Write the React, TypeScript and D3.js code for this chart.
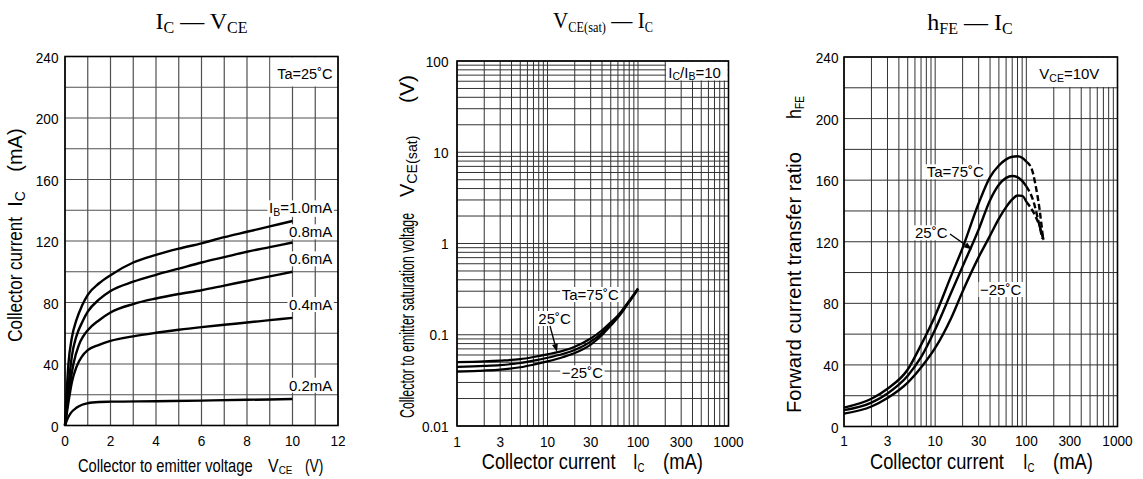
import React, { useEffect, useRef } from "react";
import * as d3 from "d3";

const W = 1143;
const H = 479;
const SANS = '"Liberation Sans", Arial, Helvetica, sans-serif';
const SERIF = '"Liberation Serif", "Times New Roman", Times, serif';

// ---------- Panel 1 : IC - VCE ----------
const vceTicks = [0, 2, 4, 6, 8, 10, 12];
const icTicks = [0, 40, 80, 120, 160, 200, 240];
const ib10: [number, number][] = [[0, 0], [0.15, 40], [0.3, 57], [0.5, 68.5], [0.75, 78], [1, 85], [1.5, 92.5], [2, 97.8], [3, 106], [4, 111], [5, 115], [6, 118.5], [7, 122.5], [8, 126], [9, 129.5], [10, 133]];
const ib08: [number, number][] = [[0, 0], [0.15, 25], [0.3, 45], [0.5, 58], [0.75, 67], [1, 74], [1.5, 82], [2, 87.5], [3, 93.5], [4, 98], [5, 102], [6, 106], [7, 109.5], [8, 113], [9, 116], [10, 119]];
const ib06: [number, number][] = [[0, 0], [0.2, 25], [0.37, 40], [0.6, 52], [0.8, 58], [1, 62], [1.5, 68.5], [2, 73.5], [3, 79], [4, 82.6], [5, 85.5], [6, 88], [7, 91], [8, 94], [9, 97], [10, 100]];
const ib04: [number, number][] = [[0, 0], [0.15, 15], [0.3, 28], [0.5, 38], [0.75, 45], [1, 49], [1.5, 52.5], [2, 55], [3, 58], [4, 60.3], [5, 62.3], [6, 64], [7, 65.5], [8, 67], [9, 68.5], [10, 70]];
const ib02: [number, number][] = [[0, 0], [0.1, 4], [0.25, 8], [0.5, 11.5], [0.75, 13.5], [1, 14.5], [1.5, 15.3], [2, 15.5], [4, 15.8], [6, 16.2], [8, 16.7], [10, 17.2]];
const ibNames = ["1.0mA", "0.8mA", "0.6mA", "0.4mA", "0.2mA"];

// ---------- Panel 2 : VCE(sat) - IC ----------
const logXTicks = [1, 3, 10, 30, 100, 300, 1000];
const logXTickLabels = ["1", "3", "10", "30", "100", "300", "1000"];
const vsatTicks = [0.01, 0.1, 1, 10, 100];
const vsatTickLabels = ["0.01", "0.1", "1", "10", "100"];
const icSat = [1, 2, 3, 5, 7, 10, 15, 20, 30, 40, 50, 60, 70, 80, 90, 100];
const vsat75 = [0.05, 0.051, 0.052, 0.054, 0.057, 0.061, 0.067, 0.074, 0.091, 0.112, 0.137, 0.163, 0.197, 0.236, 0.277, 0.322];
const vsat25 = [0.0445, 0.0455, 0.0465, 0.049, 0.052, 0.056, 0.062, 0.068, 0.084, 0.105, 0.131, 0.158, 0.193, 0.232, 0.273, 0.318];
const vsatM25 = [0.0395, 0.0405, 0.0415, 0.044, 0.047, 0.051, 0.057, 0.063, 0.078, 0.0995, 0.126, 0.154, 0.189, 0.229, 0.27, 0.315];

// ---------- Panel 3 : hFE - IC ----------
const hfeTicks = [0, 40, 80, 120, 160, 200, 240];
const icH = [1, 2, 3, 5, 7, 10, 15, 20, 30, 40, 50, 60, 70, 80, 90, 100];
const hfe75 = [12.3, 18, 24.5, 37, 53, 72, 98, 116, 145, 162, 169.5, 173.5, 175.2, 175.5, 174.5, 172];
const hfe25 = [10.6, 15.5, 21.5, 33, 45, 63, 87, 104, 128, 147, 157, 161.5, 162.7, 162, 159.5, 156];
const hfeM25 = [8.4, 13, 18.5, 28.5, 38.3, 51, 70.5, 87.7, 110, 124, 135, 142.5, 147.5, 150, 149.8, 146];
const hfe75Dash: [number, number][] = [[100, 172], [115, 167], [125, 158], [140, 140.6], [153, 121]];
const hfe25Dash: [number, number][] = [[100, 156], [120, 146], [135, 134], [150, 122]];
const hfeM25Dash: [number, number][] = [[100, 146], [120, 139], [140, 130], [155, 121]];

type Part = { t: string; sub?: boolean };
interface TOpts {
  x: number; y: number; size: number; sub?: number; shift?: number; sx?: number;
  rot?: boolean; anchor?: string; family?: string;
}
type Sel = d3.Selection<any, any, any, any>;

function rich(parent: Sel, parts: Part[], o: TOpts) {
  const g = parent.append("g").attr(
    "transform",
    `translate(${o.x},${o.y})${o.rot ? " rotate(-90)" : ""} scale(${o.sx ?? 1},1)`
  );
  const text = g.append("text")
    .attr("font-family", o.family ?? SANS)
    .attr("font-size", o.size)
    .attr("text-anchor", o.anchor ?? "start")
    .attr("fill", "#000");
  const subSize = o.sub ?? Math.round(o.size * 0.7);
  const shift = o.shift ?? o.size * 0.18;
  let cur = 0;
  for (const p of parts) {
    const ts = text.append("tspan").text(p.t).attr("font-size", p.sub ? subSize : o.size);
    const want = p.sub ? shift : 0;
    if (want !== cur) { ts.attr("dy", want - cur); cur = want; }
  }
  return { g, text };
}

function withBg(r: { g: Sel; text: Sel }, pad = 1.5) {
  const b = (r.text.node() as SVGTextElement).getBBox();
  r.g.insert("rect", "text")
    .attr("x", b.x - pad).attr("y", b.y + 1)
    .attr("width", b.width + 2 * pad).attr("height", b.height - 2)
    .attr("fill", "#fff");
}

function logGrid(lo: number, hi: number) {
  const out: number[] = [];
  for (let e = Math.floor(Math.log10(lo)); Math.pow(10, e) <= hi * 1.0001; e++) {
    for (let k = 1; k < 10; k++) {
      const v = k * Math.pow(10, e);
      if (v >= lo * 0.9999 && v <= hi * 1.0001) out.push(v);
    }
  }
  return out;
}

function drawGrid(g: Sel, xs: number[], ys: number[], x: any, y: any, color: string, w: number) {
  const [yb, yt] = y.range();
  const [xl, xr] = x.range();
  g.append("g").selectAll("line").data(xs).join("line")
    .attr("x1", (d: number) => x(d)).attr("x2", (d: number) => x(d))
    .attr("y1", yb).attr("y2", yt)
    .attr("stroke", color).attr("stroke-width", w);
  g.append("g").selectAll("line").data(ys).join("line")
    .attr("y1", (d: number) => y(d)).attr("y2", (d: number) => y(d))
    .attr("x1", xl).attr("x2", xr)
    .attr("stroke", color).attr("stroke-width", w);
}

function blank(g: Sel, x0: number, y0: number, x1: number, y1: number) {
  g.append("rect").attr("x", x0 + 0.8).attr("y", y0 + 0.8)
    .attr("width", x1 - x0 - 1.6).attr("height", y1 - y0 - 1.6).attr("fill", "#fff");
}

function frame(g: Sel, x: any, y: any) {
  const [xl, xr] = x.range();
  const [yb, yt] = y.range();
  g.append("rect").attr("x", xl).attr("y", yt).attr("width", xr - xl).attr("height", yb - yt)
    .attr("fill", "none").attr("stroke", "#000").attr("stroke-width", 1.6);
}

function arrow(g: Sel, x0: number, y0: number, x1: number, y1: number) {
  const dx = x1 - x0, dy = y1 - y0;
  const L = Math.hypot(dx, dy);
  const ux = dx / L, uy = dy / L;
  const hl = 8, hw = 3;
  const bx = x1 - ux * hl, by = y1 - uy * hl;
  g.append("line").attr("x1", x0).attr("y1", y0).attr("x2", bx).attr("y2", by)
    .attr("stroke", "#000").attr("stroke-width", 1.3);
  g.append("path")
    .attr("d", `M${x1},${y1}L${bx - uy * hw},${by + ux * hw}L${bx + uy * hw},${by - ux * hw}Z`)
    .attr("fill", "#000");
}

function yTickLabels(g: Sel, vals: number[], labels: string[], y: any, xr: number, dy: number) {
  vals.forEach((v, i) => {
    rich(g, [{ t: labels[i] }], { x: xr, y: y(v) + dy, size: 15.5, sx: 0.88, anchor: "end" });
  });
}
function xTickLabels(g: Sel, vals: number[], labels: string[], x: any, yb: number) {
  vals.forEach((v, i) => {
    rich(g, [{ t: labels[i] }], { x: x(v), y: yb, size: 15.5, sx: 0.88, anchor: "middle" });
  });
}

function draw(svg: Sel) {
  svg.append("rect").attr("width", W).attr("height", H).attr("fill", "#fff");
  const GRID = "#333";

  // ======== Panel 1 ========
  {
    const g = svg.append("g");
    const x = d3.scaleLinear().domain([0, 12]).range([65, 338]);
    const y = d3.scaleLinear().domain([0, 240]).range([425.5, 56.5]);
    drawGrid(g, d3.range(0, 13), d3.range(0, 241, 20), x, y, "#505050", 1.2);
    blank(g, x(9), y(240), x(12), y(220));
    const line = d3.line<[number, number]>().x(d => x(d[0])).y(d => y(d[1])).curve(d3.curveMonotoneX);
    [ib10, ib08, ib06, ib04, ib02].forEach(s => {
      g.append("path").attr("d", line(s)!).attr("fill", "none").attr("stroke", "#000").attr("stroke-width", 2.4);
    });
    const labY = [138, 122.4, 104.8, 75.1, 22.6];
    ibNames.forEach((n, i) => {
      const parts: Part[] = i === 0 ? [{ t: "I" }, { t: "B", sub: true }, { t: "=" + n }] : [{ t: n }];
      const r = rich(g, parts, { x: x(11.75), y: y(labY[i]), size: 15, sub: 10.5, shift: 2.5, anchor: "end" });
      withBg(r, 1.5);
    });
    rich(g, [{ t: "Ta=25˚C" }], { x: 332.5, y: 79, size: 15, sx: 0.97, anchor: "end" });
    frame(g, x, y);
    yTickLabels(g, icTicks, icTicks.map(String), y, 58.5, 6);
    xTickLabels(g, vceTicks, vceTicks.map(String), x, 446);
    rich(g, [{ t: "I" }, { t: "C", sub: true }, { t: " — V" }, { t: "CE", sub: true }],
      { x: 201.5, y: 28.5, size: 24, sub: 16, shift: 4, anchor: "middle", family: SERIF });
    rich(g, [{ t: "Collector to emitter voltage" }], { x: 78, y: 471.5, size: 17.7, sx: 0.83 });
    rich(g, [{ t: "V" }, { t: "CE", sub: true }], { x: 268, y: 471.5, size: 17.7, sub: 11, shift: 2, sx: 0.9 });
    rich(g, [{ t: "(V)" }], { x: 305, y: 471.5, size: 17.7, sx: 0.78 });
    rich(g, [{ t: "Collector current" }], { x: 21.5, y: 341.7, size: 20, sx: 0.85, rot: true });
    rich(g, [{ t: "I" }, { t: "C", sub: true }], { x: 21.5, y: 206.7, size: 20, sub: 14, shift: 3, rot: true });
    rich(g, [{ t: "(mA)" }], { x: 21.5, y: 171.7, size: 20, sx: 1.0, rot: true });
  }

  // ======== Panel 2 ========
  {
    const g = svg.append("g");
    const x = d3.scaleLog().domain([1, 1000]).range([457, 728.5]);
    const y = d3.scaleLog().domain([0.01, 100]).range([426, 61]);
    drawGrid(g, logGrid(1, 1000), logGrid(0.01, 100), x, y, GRID, 1);
    blank(g, x(200), y(100), x(1000), y(60));
    const line = d3.line<[number, number]>().x(d => x(d[0])).y(d => y(d[1])).curve(d3.curveMonotoneX);
    [vsat75, vsat25, vsatM25].forEach(vals => {
      const pts = icSat.map((c, i) => [c, vals[i]] as [number, number]);
      g.append("path").attr("d", line(pts)!).attr("fill", "none").attr("stroke", "#000").attr("stroke-width", 2.2);
    });
    withBg(rich(g, [{ t: "Ta=75˚C" }], { x: 561.7, y: 300, size: 15 }), 1.5);
    withBg(rich(g, [{ t: "25˚C" }], { x: 538.3, y: 324, size: 15 }), 1.5);
    withBg(rich(g, [{ t: "−25˚C" }], { x: 561.7, y: 378.3, size: 15 }), 1.5);
    arrow(g, 550, 326, 557, 352);
    rich(g, [{ t: "I" }, { t: "C", sub: true }, { t: "/I" }, { t: "B", sub: true }, { t: "=10" }],
      { x: 668.3, y: 77.7, size: 15, sub: 10.5, shift: 2.5 });
    frame(g, x, y);
    yTickLabels(g, vsatTicks, vsatTickLabels, y, 448.5, 5.5);
    xTickLabels(g, logXTicks, logXTickLabels, x, 446.5);
    rich(g, [{ t: "V" }, { t: "CE(sat)", sub: true }, { t: " — I" }, { t: "C", sub: true }],
      { x: 603, y: 27.5, size: 24, sub: 14, shift: 4, sx: 0.88, anchor: "middle", family: SERIF });
    rich(g, [{ t: "Collector current" }], { x: 481.7, y: 469, size: 22, sx: 0.83 });
    rich(g, [{ t: "I" }, { t: "C", sub: true }], { x: 633, y: 469, size: 22, sub: 13, shift: 3, sx: 0.75 });
    rich(g, [{ t: "(mA)" }], { x: 663, y: 469, size: 22, sx: 0.84 });
    rich(g, [{ t: "Collector to emitter saturation voltage" }], { x: 413.5, y: 418, size: 21, sx: 0.59, rot: true });
    rich(g, [{ t: "V" }, { t: "CE(sat)", sub: true }], { x: 413.5, y: 197, size: 21, sub: 15, shift: 3, sx: 0.95, rot: true });
    rich(g, [{ t: "(V)" }], { x: 413.5, y: 103, size: 21, rot: true, sx: 1.0 });
  }

  // ======== Panel 3 ========
  {
    const g = svg.append("g");
    const x = d3.scaleLog().domain([1, 1000]).range([844, 1117.5]);
    const y = d3.scaleLinear().domain([0, 240]).range([426.5, 57]);
    drawGrid(g, logGrid(1, 1000), d3.range(0, 241, 20), x, y, GRID, 1);
    blank(g, x(100), y(240), x(1000), y(220));
    const line = d3.line<[number, number]>().x(d => x(d[0])).y(d => y(d[1])).curve(d3.curveMonotoneX);
    [hfe75, hfe25, hfeM25].forEach(vals => {
      const pts = icH.map((c, i) => [c, vals[i]] as [number, number]);
      g.append("path").attr("d", line(pts)!).attr("fill", "none").attr("stroke", "#000").attr("stroke-width", 2.4);
    });
    [hfe75Dash, hfe25Dash, hfeM25Dash].forEach(pts => {
      g.append("path").attr("d", line(pts)!).attr("fill", "none").attr("stroke", "#000")
        .attr("stroke-width", 2.4).attr("stroke-dasharray", "6,3");
    });
    withBg(rich(g, [{ t: "Ta=75˚C" }], { x: 926.7, y: 177.3, size: 15 }), 1.5);
    withBg(rich(g, [{ t: "25˚C" }], { x: 915, y: 238.3, size: 15 }), 1.5);
    withBg(rich(g, [{ t: "−25˚C" }], { x: 980, y: 295, size: 15 }), 1.5);
    arrow(g, 950, 234, 972, 249.5);
    rich(g, [{ t: "V" }, { t: "CE", sub: true }, { t: "=10V" }], { x: 1039.3, y: 79, size: 15, sub: 10.5, shift: 2.5 });
    frame(g, x, y);
    yTickLabels(g, hfeTicks, hfeTicks.map(String), y, 838.5, 6);
    xTickLabels(g, logXTicks, logXTickLabels, x, 446);
    rich(g, [{ t: "h" }, { t: "FE", sub: true }, { t: " — I" }, { t: "C", sub: true }],
      { x: 970, y: 29.5, size: 24, sub: 16, shift: 4, anchor: "middle", family: SERIF });
    rich(g, [{ t: "Collector current" }], { x: 870, y: 469, size: 22, sx: 0.83 });
    rich(g, [{ t: "I" }, { t: "C", sub: true }], { x: 1023, y: 469, size: 22, sub: 13, shift: 3, sx: 0.75 });
    rich(g, [{ t: "(mA)" }], { x: 1053, y: 469, size: 22, sx: 0.84 });
    rich(g, [{ t: "Forward current transfer ratio" }], { x: 801, y: 413, size: 21, sx: 0.96, rot: true });
    rich(g, [{ t: "h" }, { t: "FE", sub: true }], { x: 801, y: 119, size: 21, sub: 12, shift: 3, sx: 0.85, rot: true });
  }
}

export default function App() {
  const ref = useRef<SVGSVGElement>(null);
  useEffect(() => {
    const svg = d3.select(ref.current);
    svg.selectAll("*").remove();
    draw(svg as any);
  }, []);
  return (
    <svg
      ref={ref}
      width={W}
      height={H}
      style={{ position: "absolute", left: 0, top: 0, background: "#fff" }}
    />
  );
}
